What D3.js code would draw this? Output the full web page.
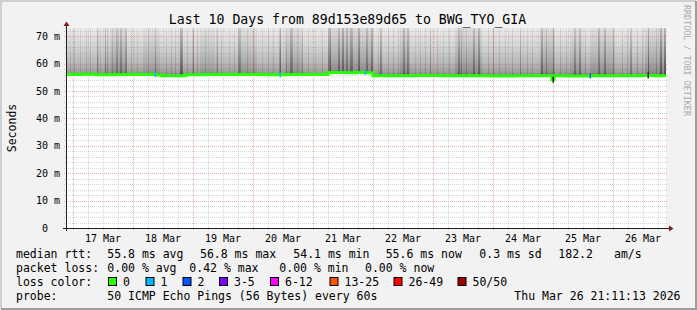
<!DOCTYPE html>
<html><head><meta charset="utf-8">
<script src="https://cdn.jsdelivr.net/npm/d3@7"></script>
<style>
body{margin:0;background:#f2f2f2;}
svg{display:block;}
text{font-family:"DejaVu Sans Mono",monospace;white-space:pre;}
</style>
</head><body>
<svg id="c" width="697" height="310"></svg>
<script>
// ---------- data ----------
const title = "Last 10 Days from 89d153e89d65 to BWG_TYO_GIA";
const yTickValues = [0, 10, 20, 30, 40, 50, 60, 70];
const yTickLabels = ["0", "10 m", "20 m", "30 m", "40 m", "50 m", "60 m", "70 m"];
const dayLabels = ["17 Mar","18 Mar","19 Mar","20 Mar","21 Mar","22 Mar","23 Mar","24 Mar","25 Mar","26 Mar"];
const startTime = new Date(2026, 2, 16, 21, 11, 13);
const endTime = new Date(2026, 2, 26, 21, 11, 13);
const yMax = 73;

// median rtt (ms) as steps: hour offset from start -> value
const medianHours  = [0, 6, 12, 20, 28, 36, 38, 44, 48, 56, 64, 72, 80, 88, 96, 104.8, 108, 112, 116, 120, 122.8, 130, 140, 150, 160, 170, 180, 190, 194.4, 195.2, 200, 210, 220, 230, 236, 240];
const medianValues = [56.0, 56.1, 55.9, 56.0, 56.0, 55.8, 55.6, 55.6, 55.9, 56.0, 56.0, 56.0, 55.9, 56.0, 56.0, 56.8, 56.8, 56.7, 56.8, 56.7, 55.6, 55.6, 55.7, 55.6, 55.6, 55.5, 55.6, 55.6, 54.1, 55.6, 55.5, 55.6, 55.6, 55.7, 55.6, 55.6];

// wider zones of denser smoke: hour offset, width (hours), density
const bandHours  = [17.6, 30.8, 53.6, 68.8, 87.6, 104.8, 133.6, 155.6, 189.6, 201.6, 209.6, 231.6];
const bandWidths = [6.8, 6.8, 6, 7.6, 6.8, 18, 4, 10.8, 6, 4.8, 10, 8.4];
const bandShade  = [0.3, 0.2, 0.2, 0.2, 0.25, 0.35, 0.3, 0.3, 0.3, 0.2, 0.25, 0.3];

// dark smoke streaks: hour offset, width (hours), darkness
const streakHours  = [12.5, 15.6, 16.5, 20, 21.6, 23.6, 35.6, 45.6, 46.4, 50.7, 60.3, 68.8, 69.6, 74.9, 85.4, 89.6, 90.4, 94.4, 104.8, 105.6, 108.8, 110.4, 112, 113.6, 114.4, 116.8, 120, 122, 125.6, 134.8, 136.4, 145.6, 156.8, 158, 162.8, 164.8, 170.8, 181.6, 190, 192, 194.8, 203.2, 205.2, 212.8, 215.2, 218.8, 225.6, 232.8, 237.6, 239.2];
const streakWidths = [0.4, 0.4, 0.4, 0.8, 0.8, 0.8, 0.4, 0.8, 0.4, 0.4, 0.4, 0.8, 0.4, 0.4, 0.6, 0.8, 0.4, 0.4, 1.2, 0.4, 0.8, 0.8, 0.8, 0.8, 0.4, 0.8, 0.8, 0.8, 0.8, 0.8, 0.8, 0.4, 0.8, 0.4, 0.8, 0.8, 0.4, 0.4, 0.8, 0.4, 0.4, 0.8, 0.8, 0.8, 0.8, 0.4, 0.8, 0.4, 0.8, 0.8];
const streakShade  = [0.6, 0.55, 0.45, 0.35, 0.4, 0.35, 0.4, 0.6, 0.5, 0.7, 0.55, 0.4, 0.35, 0.35, 0.65, 0.45, 0.4, 0.4, 0.45, 0.4, 0.5, 0.6, 0.45, 0.5, 0.45, 0.6, 0.45, 0.5, 0.45, 0.45, 0.4, 0.4, 0.45, 0.4, 0.45, 0.5, 0.4, 0.4, 0.45, 0.4, 0.55, 0.4, 0.4, 0.45, 0.45, 0.4, 0.4, 0.65, 0.6, 0.6];

// faint smoke streaks: hour offset, darkness
const faintHours = [1.6, 3.2, 5.6, 8, 9.6, 13.6, 18.4, 26, 28.4, 32.8, 40, 42, 43.6, 48.4, 52.4, 55.6, 62, 65.2, 67.2, 72.4, 78.4, 80.8, 82.8, 88, 92.4, 96.8, 99.6, 102.4, 124.8, 128.8, 130.8, 132.8, 139.6, 141.6, 143.6, 148.4, 150.8, 153.2, 160, 168.8, 173.2, 175.6, 178.4, 184.4, 186.4, 197.6, 200, 207.6, 222.4, 224.4, 228.4, 230.4, 236];
const faintShade = [0.15, 0.2, 0.15, 0.22, 0.2, 0.22, 0.26, 0.2, 0.15, 0.22, 0.2, 0.22, 0.2, 0.22, 0.26, 0.2, 0.22, 0.15, 0.2, 0.22, 0.15, 0.2, 0.22, 0.26, 0.22, 0.2, 0.15, 0.2, 0.22, 0.2, 0.22, 0.26, 0.15, 0.2, 0.22, 0.2, 0.15, 0.22, 0.26, 0.22, 0.2, 0.15, 0.2, 0.22, 0.2, 0.22, 0.2, 0.26, 0.2, 0.22, 0.26, 0.22, 0.26];

// packet loss events on median line: hour offset, lost pings
const lossHours  = [35.6, 85.6, 119.6, 209.6];
const lossCounts = [1, 1, 1, 2];
// dark gaps in median line
const gapHours = [194.8, 232.8];

// legend
const lossLabels = ["0", "1", "2", "3-5", "6-12", "13-25", "26-49", "50/50"];
const lossColors = ["#26ff00", "#00b8ff", "#0059ff", "#7e00ff", "#ff00ff", "#ff5500", "#ff0000", "#a10000"];
const rttRow  = ["median rtt:", "55.8 ms avg", "56.8 ms max", "54.1 ms min", "55.6 ms now", "0.3 ms sd", "182.2", "am/s"];
const lossRow = ["packet loss:", "0.00 % avg", "0.42 % max", "0.00 % min", "0.00 % now"];
const probeRow = ["probe:", "50 ICMP Echo Pings (56 Bytes) every 60s"];
const dateText = "Thu Mar 26 21:11:13 2026";

// ---------- layout ----------
const W = 697, H = 310;
const X0 = 66, X1 = 666, YB = 228, YT = 28;
const svg = d3.select("#c");
const hourDate = h => new Date(startTime.getTime() + h * 3600e3);
const x = d3.scaleTime().domain([startTime, endTime]).range([X0, X1]);
const y = d3.scaleLinear().domain([0, yMax]).range([YB, YT]);
const cr = v => Math.round(v) + 0.5;

// frame
svg.append("rect").attr("width", W).attr("height", H).attr("fill", "#f2f2f2");
svg.append("path").attr("d", `M0,1H${W-1}M1,0V${H-1}`).attr("stroke", "#cfcfcf").attr("stroke-width", 2);
svg.append("path").attr("d", `M${W-1},1V${H}M1,${H-1}H${W}`).attr("stroke", "#9e9e9e").attr("stroke-width", 2);

// canvas
svg.append("rect").attr("x", X0).attr("y", YT).attr("width", X1 - X0).attr("height", YB - YT).attr("fill", "#fff");

const defs = svg.append("defs");
const g1 = defs.append("linearGradient").attr("id", "smoke").attr("gradientUnits", "userSpaceOnUse")
  .attr("x1", 0).attr("x2", 0).attr("y1", y(yMax)).attr("y2", y(55.5));
[[0, "#eaeaea"], [0.35, "#d6d6d6"], [0.7, "#bcbcbc"], [0.9, "#a2a2a2"], [1, "#868686"]]
  .forEach(s => g1.append("stop").attr("offset", s[0]).attr("stop-color", s[1]));
const g2 = defs.append("linearGradient").attr("id", "streak").attr("gradientUnits", "userSpaceOnUse")
  .attr("x1", 0).attr("x2", 0).attr("y1", y(yMax)).attr("y2", y(55.5));
[[0, "#a0a0a0"], [0.5, "#5a5a5a"], [1, "#202020"]]
  .forEach(s => g2.append("stop").attr("offset", s[0]).attr("stop-color", s[1]));

const med = medianHours.map((h, i) => ({t: hourDate(h), v: medianValues[i], h}));
const bis = d3.bisector(d => d.h).right;
const medAt = h => med[Math.max(0, bis(med, h) - 1)].v;

// smoke base
svg.append("path").datum(med)
  .attr("d", d3.area().x(d => x(d.t)).y0(d => y(d.v)).y1(y(yMax)).curve(d3.curveStepAfter))
  .attr("fill", "url(#smoke)");

function smokeRects(hours, widthFn, shadeFn) {
  svg.append("g").selectAll("rect").data(hours).join("rect")
    .attr("x", h => x(hourDate(h)))
    .attr("width", (h, i) => x(hourDate(h + widthFn(i))) - x(hourDate(h)))
    .attr("y", y(yMax))
    .attr("height", h => y(medAt(h)) - y(yMax))
    .attr("fill", "url(#streak)")
    .attr("opacity", (h, i) => shadeFn(i));
}
smokeRects(bandHours, i => bandWidths[i], i => bandShade[i] * 0.55);
smokeRects(faintHours, i => 0.4, i => faintShade[i]);
smokeRects(streakHours, i => streakWidths[i], i => streakShade[i]);

// grid
const gridG = svg.append("g");
d3.range(2, yMax + 0.01, 2).forEach(v => {
  const major = v % 10 === 0;
  gridG.append("line").attr("x1", X0 - 2).attr("x2", X1 + 2).attr("y1", cr(y(v))).attr("y2", cr(y(v)))
    .attr("stroke", major ? "rgba(222,79,79,0.45)" : "rgba(143,143,143,0.35)")
    .attr("stroke-dasharray", "1,1");
});
d3.timeHour.every(6).range(startTime, endTime).forEach(t => {
  const major = t.getHours() === 0;
  gridG.append("line").attr("x1", cr(x(t))).attr("x2", cr(x(t))).attr("y1", YB + 2).attr("y2", YT)
    .attr("stroke", major ? "rgba(222,79,79,0.45)" : "rgba(143,143,143,0.35)")
    .attr("stroke-dasharray", "1,1");
});

// median line
const lineGen = d3.line().x(d => x(d.t)).y(d => y(d.v)).curve(d3.curveStepAfter);
svg.append("path").datum(med).attr("d", lineGen).attr("fill", "none")
  .attr("stroke", lossColors[0]).attr("stroke-width", 3);

// loss marks
svg.append("g").selectAll("rect").data(lossHours).join("rect")
  .attr("x", h => x(hourDate(h)) - 0.5).attr("width", 1.5)
  .attr("y", h => y(medAt(h)) - 2.5).attr("height", 5)
  .attr("fill", (h, i) => lossColors[lossCounts[i] >= 3 ? 3 : lossCounts[i]]);
// gaps
svg.append("g").selectAll("rect").data(gapHours).join("rect")
  .attr("x", h => x(hourDate(h)) - 0.5).attr("width", 1.5)
  .attr("y", h => y(medAt(h + 0.1)) - 3).attr("height", 6)
  .attr("fill", "#202020");

// axes
svg.append("path").attr("d", `M${X0-3},${YB+0.5}H${X1+4}`).attr("stroke", "#1f1f1f").attr("stroke-width", 1);
svg.append("path").attr("d", `M${X0+0.5},${YB+3}V${YT-4}`).attr("stroke", "#1f1f1f").attr("stroke-width", 1);
svg.append("path").attr("d", `M${X1+3},${YB-2.5}L${X1+7.5},${YB+0.5}L${X1+3},${YB+3.5}Z`).attr("fill", "#801f1f");
svg.append("path").attr("d", `M${X0-2.5},${YT-2}L${X0+0.5},${YT-6.5}L${X0+3.5},${YT-2}Z`).attr("fill", "#801f1f");

// y labels
svg.append("g").selectAll("text").data(yTickValues).join("text")
  .attr("x", (v, i) => i === 0 ? 48 : 60).attr("y", v => y(v) + 3.6)
  .attr("text-anchor", "end").attr("font-size", "10px").attr("fill", "#000")
  .text((v, i) => yTickLabels[i]);

// x labels
const days = d3.timeDay.range(d3.timeDay.ceil(startTime), endTime);
svg.append("g").selectAll("text").data(days).join("text")
  .attr("x", d => x(d3.timeHour.offset(d, 12))).attr("y", 241.5)
  .attr("text-anchor", "middle").attr("font-size", "10px").attr("fill", "#000")
  .text((d, i) => dayLabels[i]);

// title
svg.append("text").attr("x", 347.5).attr("y", 24).attr("text-anchor", "middle")
  .attr("font-size", "13.2px").attr("fill", "#000").text(title);

// y axis title
svg.append("text").attr("transform", "translate(15.5,128) rotate(-90)").attr("text-anchor", "middle")
  .attr("font-size", "11.5px").attr("fill", "#000").text("Seconds");

// watermark
svg.append("text").attr("transform", "translate(683.5,5) rotate(90)").attr("text-anchor", "start")
  .attr("font-size", "8.4px").attr("fill", "#aaaaaa").text("RRDTOOL / TOBI OETIKER");

// legend
const fs = "11.5px";
const rttX = [16, 107.3, 200, 293.3, 385.7, 479.3, 558.3, 614];
rttRow.forEach((s, i) => svg.append("text").attr("x", rttX[i]).attr("y", 257.5).attr("font-size", fs).text(s));
const lossX = [16, 107.3, 189.3, 279.3, 365];
lossRow.forEach((s, i) => svg.append("text").attr("x", lossX[i]).attr("y", 271.7).attr("font-size", fs).text(s));
svg.append("text").attr("x", 16).attr("y", 285.9).attr("font-size", fs).text("loss color:");
const boxX = [108, 145.5, 182.5, 219, 270, 329.5, 393.5, 457.5];
svg.append("g").selectAll("rect").data(lossColors).join("rect")
  .attr("x", (c, i) => boxX[i] + 0.5).attr("y", 277.5).attr("width", 8).attr("height", 8)
  .attr("fill", c => c).attr("stroke", "#000").attr("stroke-width", 1);
svg.append("g").selectAll("text").data(lossLabels).join("text")
  .attr("x", (s, i) => boxX[i] + 15).attr("y", 285.9).attr("font-size", fs).text(s => s);
probeRow.forEach((s, i) => svg.append("text").attr("x", [16, 107.3][i]).attr("y", 300.1).attr("font-size", fs).text(s));
svg.append("text").attr("x", 680.5).attr("y", 300.1).attr("text-anchor", "end").attr("font-size", fs).text(dateText);
</script>
</body></html>
